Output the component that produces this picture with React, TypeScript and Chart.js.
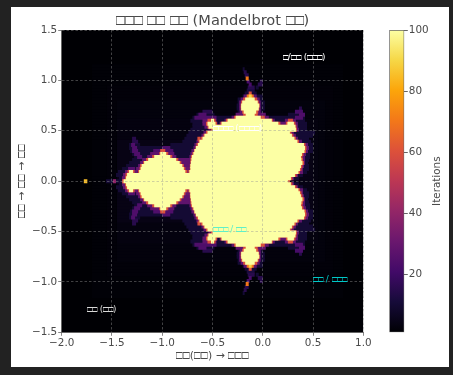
import React, { useEffect, useRef } from "react";
import { Chart, registerables } from "chart.js";

Chart.register(...registerables);

const TITLE = "□□□ □□ □□ (Mandelbrot □□)";
const X_LABEL = "□□(□□) → □□□";
const Y_LABEL = "□□ → □□ → □□";
const COLORBAR_LABEL = "Iterations";

const xTicks = [-2, -1.5, -1, -0.5, 0, 0.5, 1];
const yTicks = [-1.5, -1, -0.5, 0, 0.5, 1, 1.5];
const colorbarTicks = [20, 40, 60, 80, 100];

const annotationTexts = ["□/□□ (□□□)", "□□□□ (□□□□)", "□□□ / □□", "□□ / □□□", "□□ (□□)"];
const annotationX = [0.2, -0.5, -0.5, 0.5, -1.75];
const annotationY = [1.2, 0.5, -0.5, -1.0, -1.3];
const annotationColors = ["#ffffff", "#ffffff", "#5ff0c8", "#00c8c8", "#d8d8d8"];

const infernoStops = ["#000004", "#160b39", "#420a68", "#6a176e", "#932667", "#bc3754", "#dd513a", "#f37819", "#fca50a", "#f6d746", "#fcffa4"];

// faint glow read from the dark field: [half height, x from, x to, iterations]
const glowBands = [
  [1.15, -1.7, 0.8, 1.5],
  [0.95, -1.55, 0.7, 2],
  [0.8, -1.45, 0.62, 2.5],
  [0.6, -1.45, 0.55, 3],
  [0.4, -1.45, 0.5, 4],
];

// spans, upper half (the picture is mirrored about y = 0).
// each row is y = index * 0.03, each span [x from, x to, iterations].
const rowSpans = [
  [[-1.56, -1.38, 10], [-1.49, -1.46, 40], [-1.78, -1.745, 85], [-1.4, 0.27, 60], [-1.385, 0.25, 100]],
  [[-1.43, 0.36, 10], [-1.4, 0.31, 30], [-1.37, 0.295, 60], [-1.36, 0.28, 100]],
  [[-1.46, 0.4, 10], [-1.39, 0.35, 30], [-1.365, 0.335, 60], [-1.35, 0.32, 100]],
  [[-1.44, 0.44, 10], [-1.37, -1.25, 30], [-1.345, -1.275, 60], [-1.33, -1.29, 100], [-1.25, 0.4, 30], [-1.24, -0.75, 60], [-1.23, -0.77, 100], [-0.74, 0.37, 60], [-0.73, 0.355, 100]],
  [[-1.4, 0.46, 10], [-1.34, -1.27, 25], [-1.26, 0.4, 30], [-1.225, -0.77, 60], [-1.215, -0.785, 100], [-0.725, 0.385, 60], [-0.72, 0.37, 100]],
  [[-1.36, 0.46, 10], [-1.24, 0.41, 28], [-1.22, -0.785, 60], [-1.205, -0.8, 100], [-0.725, 0.395, 60], [-0.72, 0.38, 100]],
  [[-1.33, 0.45, 10], [-1.22, 0.42, 28], [-1.19, -0.81, 60], [-1.18, -0.826, 100], [-0.72, 0.41, 60], [-0.715, 0.395, 100]],
  [[-1.3, 0.46, 10], [-1.2, 0.42, 28], [-1.16, -0.84, 60], [-1.14, -0.86, 100], [-0.72, 0.4, 60], [-0.71, 0.385, 100]],
  [[-1.28, 0.47, 10], [-1.25, -1.2, 24], [-1.15, -0.86, 28], [-1.1, -0.9, 60], [-1.08, -0.92, 100], [-0.73, 0.42, 28], [-0.715, 0.395, 60], [-0.705, 0.38, 100]],
  [[-1.3, 0.47, 10], [-1.28, -1.22, 24], [-1.12, -0.88, 28], [-1.03, -0.94, 60], [-1.02, -0.96, 100], [-0.72, 0.43, 28], [-0.7, 0.405, 60], [-0.69, 0.39, 100]],
  [[-1.32, 0.5, 10], [-1.3, -1.24, 24], [-1.09, -0.89, 24], [-1.02, -0.97, 60], [-0.71, 0.45, 28], [-0.685, 0.43, 60], [-0.68, 0.415, 100]],
  [[-1.33, 0.5, 10], [-1.3, -1.25, 24], [-1.0, -0.92, 24], [-0.69, 0.46, 28], [-0.67, 0.435, 60], [-0.665, 0.42, 100]],
  [[-1.33, -1.22, 10], [-1.31, -1.27, 24], [-0.92, 0.5, 10], [-0.68, 0.45, 28], [-0.66, 0.425, 60], [-0.645, 0.41, 100]],
  [[-1.3, -1.24, 15], [-0.8, 0.48, 10], [-0.66, 0.39, 28], [-0.64, 0.36, 60], [-0.63, 0.345, 100]],
  [[-1.3, -1.26, 15], [-0.78, 0.46, 10], [-0.65, -0.62, 60], [-0.63, 0.35, 28], [-0.615, 0.33, 60], [-0.6, 0.315, 100]],
  [[-0.76, 0.5, 10], [-0.61, 0.33, 28], [-0.59, 0.305, 60], [-0.58, 0.29, 100]],
  [[-0.74, 0.52, 10], [-0.59, 0.31, 28], [-0.565, 0.285, 60], [-0.55, 0.27, 100]],
  [[-0.72, 0.44, 10], [-0.54, 0.36, 28], [-0.515, 0.34, 60], [-0.5, 0.33, 100]],
  [[-0.7, 0.44, 10], [-0.58, 0.35, 28], [-0.55, 0.335, 60], [-0.54, 0.325, 100]],
  [[-0.7, 0.44, 10], [-0.6, -0.45, 28], [-0.565, -0.455, 60], [-0.55, -0.47, 100], [-0.43, 0.35, 28], [-0.42, 0.175, 60], [-0.41, 0.155, 100], [0.23, 0.325, 60], [0.245, 0.31, 100]],
  [[-0.72, 0.42, 10], [-0.6, -0.46, 28], [-0.55, -0.47, 60], [-0.515, -0.485, 100], [-0.38, 0.12, 28], [-0.365, 0.1, 60], [-0.35, 0.09, 100], [0.22, 0.33, 28], [0.25, 0.3, 60]],
  [[-0.7, 0.42, 10], [-0.68, -0.46, 24], [-0.31, 0.06, 28], [-0.285, 0.02, 60], [-0.27, -0.02, 100], [0.32, 0.4, 24]],
  [[-0.66, -0.48, 10], [-0.64, -0.56, 24], [-0.27, 0.03, 28], [-0.195, -0.05, 60], [-0.17, -0.08, 100], [0.25, 0.42, 10], [0.36, 0.42, 24]],
  [[-0.6, -0.5, 15], [-0.25, 0, 10], [-0.23, -0.02, 28], [-0.205, -0.045, 60], [-0.19, -0.065, 100], [0.32, 0.4, 22]],
  [[-0.26, 0.02, 10], [-0.235, -0.02, 28], [-0.22, -0.035, 60], [-0.215, -0.04, 100], [0.36, 0.39, 15]],
  [[-0.26, 0.02, 10], [-0.235, -0.02, 28], [-0.22, -0.03, 60], [-0.215, -0.035, 100]],
  [[-0.25, 0.02, 10], [-0.235, -0.02, 28], [-0.215, -0.04, 60], [-0.205, -0.05, 100]],
  [[-0.25, 0, 10], [-0.22, -0.03, 28], [-0.195, -0.055, 60], [-0.175, -0.08, 100]],
  [[-0.2, 0, 10], [-0.19, -0.06, 28], [-0.16, -0.09, 70], [-0.14, -0.11, 90]],
  [[-0.18, -0.06, 10], [-0.14, -0.11, 60]],
  [[-0.16, -0.08, 12]],
  [[-0.15, -0.08, 15], [-0.07, -0.04, 10]],
  [[-0.14, -0.11, 22], [-0.05, 0, 15]],
  [[-0.16, -0.13, 22], [-0.03, 0, 15]],
  [[-0.17, -0.14, 70]],
  [[-0.18, -0.14, 15]],
  [[-0.19, -0.16, 15]],
  [[-0.2, -0.18, 10]],
];

const FONT_FAMILY = 'TofuBox, "DejaVu Sans"';
const TEXT_COLOR = "#4a4a4a";
const SPINE_COLOR = "#666666";
const ROW_STEP = 0.03;
const ROW_COUNT = 50;

const inferno = (iterations: number) => {
  const position = Math.max(0, Math.min(1, (iterations - 1) / 99)) * (infernoStops.length - 1);
  const low = Math.floor(position);
  const high = Math.min(low + 1, infernoStops.length - 1);
  const mix = (hex: string, i: number) => parseInt(hex.slice(1 + i * 2, 3 + i * 2), 16);
  const part = (i: number) => Math.round(mix(infernoStops[low], i) * (1 - (position - low)) + mix(infernoStops[high], i) * (position - low));
  return `rgb(${part(0)},${part(1)},${part(2)})`;
};

// Every row's spans, highest iteration first: Chart.js paints the first dataset last.
const buildSpanDatasets = () => {
  const spans: { y: number; x0: number; x1: number; level: number }[] = [];
  for (let k = -ROW_COUNT; k <= ROW_COUNT; k++) {
    const y = k * ROW_STEP;
    spans.push({ y, x0: -2, x1: 1, level: 1 });
    for (const [half, x0, x1, level] of glowBands) {
      if (Math.abs(y) <= half) spans.push({ y, x0, x1, level });
    }
    for (const [x0, x1, level] of rowSpans[Math.abs(k)] ?? []) {
      spans.push({ y, x0, x1, level });
    }
  }
  spans.sort((a, b) => b.level - a.level);
  return spans.map((s) => ({
    data: [
      { x: s.x0, y: s.y },
      { x: s.x1, y: s.y },
    ],
    showLine: true,
    borderColor: inferno(s.level),
    borderWidth: 4,
    borderCapStyle: "butt",
    pointRadius: 0,
    pointHoverRadius: 0,
  }));
};

const tickText = (value: number | string) => Number(value).toFixed(1).replace("-", "\u2212");

export default function App() {
  const mainRef = useRef<HTMLCanvasElement>(null);
  const barRef = useRef<HTMLCanvasElement>(null);

  useEffect(() => {
    let cancelled = false;
    let main: Chart | null = null;
    let bar: Chart | null = null;

    const build = () => {
      if (cancelled || !mainRef.current || !barRef.current) return;

      const annotations = {
        id: "annotations",
        afterDraw(chart: any) {
          const { ctx, scales } = chart;
          ctx.save();
          ctx.font = `8.8px ${FONT_FAMILY}`;
          ctx.textBaseline = "alphabetic";
          ctx.textAlign = "left";
          annotationTexts.forEach((text, i) => {
            ctx.fillStyle = annotationColors[i];
            ctx.fillText(text, scales.x.getPixelForValue(annotationX[i]), scales.y.getPixelForValue(annotationY[i]));
          });
          ctx.restore();
        },
      };

      main = new Chart(mainRef.current, {
        type: "scatter",
        data: { datasets: buildSpanDatasets() as any },
        options: {
          animation: false,
          responsive: false,
          events: [],
          layout: { padding: { left: 0, right: 17.7, top: 0, bottom: 0 } },
          plugins: {
            legend: { display: false },
            tooltip: { enabled: false },
            title: {
              display: true,
              text: TITLE,
              color: TEXT_COLOR,
              fullSize: false,
              font: { family: FONT_FAMILY, size: 14.6, weight: "normal", lineHeight: 1.2 },
              padding: { top: 5, bottom: 0.5 },
            },
          },
          scales: {
            x: {
              type: "linear",
              min: -2,
              max: 1,
              afterBuildTicks: (s: any) => {
                s.ticks = xTicks.map((value) => ({ value }));
              },
              afterFit: (s: any) => {
                s.height = 34.7;
              },
              grid: { color: "rgba(150,150,150,0.55)", lineWidth: 0.8, z: 1, tickColor: SPINE_COLOR, tickLength: 3.5 },
              border: { color: SPINE_COLOR, width: 1, dash: [2.5, 2], z: 2 },
              ticks: {
                autoSkip: false,
                maxRotation: 0,
                padding: 1,
                color: TEXT_COLOR,
                font: { family: FONT_FAMILY, size: 10.4 },
                callback: tickText,
              },
              title: {
                display: true,
                text: X_LABEL,
                color: TEXT_COLOR,
                font: { family: FONT_FAMILY, size: 10.8 },
                padding: { top: 0, bottom: 4.5 },
              },
            },
            y: {
              type: "linear",
              min: -1.5,
              max: 1.5,
              afterBuildTicks: (s: any) => {
                s.ticks = yTicks.map((value) => ({ value }));
              },
              afterFit: (s: any) => {
                s.width = 50.7;
              },
              grid: { color: "rgba(150,150,150,0.55)", lineWidth: 0.8, z: 1, tickColor: SPINE_COLOR, tickLength: 3.5 },
              border: { color: SPINE_COLOR, width: 1, dash: [2.5, 2], z: 2 },
              ticks: {
                autoSkip: false,
                padding: 1,
                color: TEXT_COLOR,
                font: { family: FONT_FAMILY, size: 10.4 },
                callback: tickText,
              },
              title: {
                display: true,
                text: Y_LABEL,
                color: TEXT_COLOR,
                font: { family: FONT_FAMILY, size: 10.8 },
                padding: { top: 5, bottom: 0 },
              },
            },
          },
        } as any,
        plugins: [annotations],
      });

      const colorbarTitle = {
        id: "colorbarTitle",
        afterDraw(chart: any) {
          const { ctx, chartArea } = chart;
          ctx.save();
          ctx.translate(56, (chartArea.top + chartArea.bottom) / 2);
          ctx.rotate(-Math.PI / 2);
          ctx.font = `10.4px ${FONT_FAMILY}`;
          ctx.fillStyle = TEXT_COLOR;
          ctx.textAlign = "center";
          ctx.textBaseline = "middle";
          ctx.fillText(COLORBAR_LABEL, 0, 0);
          ctx.restore();
        },
      };

      bar = new Chart(barRef.current, {
        type: "bar",
        data: {
          labels: [COLORBAR_LABEL],
          datasets: [
            {
              data: [[1, 100]],
              barPercentage: 1,
              categoryPercentage: 1,
              borderWidth: 1,
              borderColor: SPINE_COLOR,
              borderSkipped: false,
              backgroundColor: (context: any) => {
                const area = context.chart.chartArea;
                if (!area) return infernoStops[5];
                const gradient = context.chart.ctx.createLinearGradient(0, area.bottom, 0, area.top);
                infernoStops.forEach((color, i) => gradient.addColorStop(i / (infernoStops.length - 1), color));
                return gradient;
              },
            },
          ],
        },
        options: {
          animation: false,
          responsive: false,
          events: [],
          layout: { padding: { left: 8.3, right: 0, top: 23, bottom: 34.7 } },
          plugins: { legend: { display: false }, tooltip: { enabled: false } },
          scales: {
            x: { display: false },
            y: {
              position: "right",
              min: 1,
              max: 100,
              afterBuildTicks: (s: any) => {
                s.ticks = colorbarTicks.map((value) => ({ value }));
              },
              afterFit: (s: any) => {
                s.width = 44.7;
              },
              grid: { drawOnChartArea: false, tickColor: SPINE_COLOR, tickLength: 3.5 },
              border: { display: false },
              ticks: { autoSkip: false, padding: 1, color: TEXT_COLOR, font: { family: FONT_FAMILY, size: 10.4 } },
            },
          },
        } as any,
        plugins: [colorbarTitle],
      });
    };

    document.fonts.load(`14px TofuBox`, "□").then(build, build);

    return () => {
      cancelled = true;
      main?.destroy();
      bar?.destroy();
    };
  }, []);

  return (
    <div style={{ position: "fixed", inset: 0, background: "#222222" }}>
      <style>{`@font-face{font-family:TofuBox;src:local("Liberation Sans");unicode-range:U+25A1;}`}</style>
      <div style={{ position: "absolute", left: 11, top: 7, width: 438, height: 360, background: "#ffffff" }}>
        <canvas ref={mainRef} width={370} height={360} style={{ position: "absolute", left: 0, top: 0 }} />
        <canvas ref={barRef} width={68} height={360} style={{ position: "absolute", left: 370, top: 0 }} />
      </div>
    </div>
  );
}
